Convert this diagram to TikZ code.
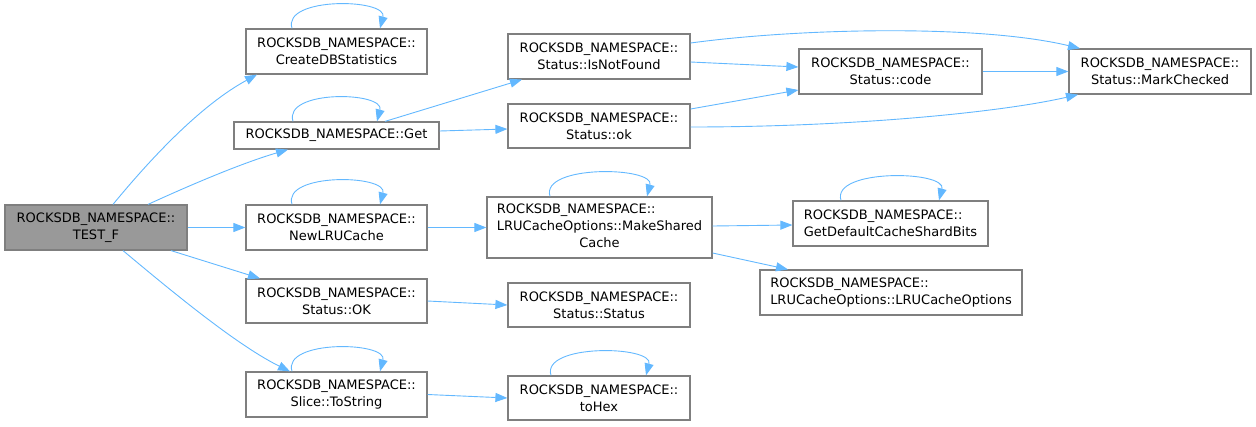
\documentclass[tikz,border=0pt]{standalone}
\usepackage{fontspec}
\setmainfont{DejaVu Sans}
\usetikzlibrary{arrows.meta}
\definecolor{edgec}{HTML}{63B8FF}
\definecolor{boxc}{HTML}{7F7F7F}
\definecolor{rootc}{HTML}{999999}
\tikzset{
  fn/.style={draw=boxc, line width=1.2pt, fill=white, inner sep=0pt, align=center,
    font=\fontsize{13}{17}\selectfont},
  root/.style={fn, fill=rootc},
  call/.style={draw=edgec, line width=0.9pt, -{Triangle[length=12pt,width=9pt]}},
}
\begin{document}
\begin{tikzpicture}[x=1pt,y=-1pt]
\useasboundingbox (0,0) rectangle (1256,426);
% nodes
\node[root, minimum width=182, minimum height=45] (testf) at (96,227.5) {ROCKSDB\_NAMESPACE::\\TEST\_F};
\node[fn, minimum width=181, minimum height=45] (cdb) at (336.5,51.5) {ROCKSDB\_NAMESPACE::\\CreateDBStatistics};
\node[fn, minimum width=205, minimum height=27] (get) at (336.5,135.5) {ROCKSDB\_NAMESPACE::Get};
\node[fn, minimum width=181, minimum height=45] (newlru) at (336.5,227.5) {ROCKSDB\_NAMESPACE::\\NewLRUCache};
\node[fn, minimum width=181, minimum height=44] (ok) at (336.5,301) {ROCKSDB\_NAMESPACE::\\Status::OK};
\node[fn, minimum width=181, minimum height=45] (tostr) at (336.5,394.5) {ROCKSDB\_NAMESPACE::\\Slice::ToString};
\node[fn, minimum width=182, minimum height=45] (isnf) at (599,56.5) {ROCKSDB\_NAMESPACE::\\Status::IsNotFound};
\node[fn, minimum width=182, minimum height=44] (sok) at (599,126) {ROCKSDB\_NAMESPACE::\\Status::ok};
\node[fn, minimum width=225, minimum height=61] (msc) at (599.5,227.5) {\begin{tabular}{@{}l@{}}ROCKSDB\_NAMESPACE::\\LRUCacheOptions::MakeShared\\\multicolumn{1}{@{}c@{}}{Cache}\end{tabular}};
\node[fn, minimum width=182, minimum height=44] (sst) at (599,305) {ROCKSDB\_NAMESPACE::\\Status::Status};
\node[fn, minimum width=182, minimum height=44] (tohex) at (599,398) {ROCKSDB\_NAMESPACE::\\toHex};
\node[fn, minimum width=183, minimum height=45] (code) at (890.5,71.5) {ROCKSDB\_NAMESPACE::\\Status::code};
\node[fn, minimum width=182, minimum height=45] (mark) at (1160,71.5) {ROCKSDB\_NAMESPACE::\\Status::MarkChecked};
\node[fn, minimum width=195, minimum height=45, align=left] (gdc) at (890.5,223.5) {ROCKSDB\_NAMESPACE::\\GetDefaultCacheShardBits};
\node[fn, minimum width=262, minimum height=45, align=left] (lruo) at (891,292.5) {ROCKSDB\_NAMESPACE::\\LRUCacheOptions::LRUCacheOptions};
% edges from TEST_F
\draw[call] ([xshift=17pt]testf.north) .. controls +(37,-45) and +(-57,31) .. ([xshift=-79.5pt]cdb.south);
\draw[call] ([xshift=52pt]testf.north) .. controls +(37,-17) and +(-48,14) .. ([xshift=-48.5pt]get.south);
\draw[call] (testf) -- (newlru);
\draw[call] ([xshift=75pt]testf.south) -- ([xshift=-76.5pt]ok.north);
\draw[call] ([xshift=27pt]testf.south) .. controls +(42,35) and +(-55,-27) .. ([xshift=-46.5pt]tostr.north);
% self loops
\draw[call] ([xshift=-44.5pt]cdb.north) .. controls +(-10,-32) and +(8,-30) .. ([xshift=43.5pt]cdb.north);
\draw[call] ([xshift=-43.5pt]get.north) .. controls +(-10,-32) and +(8,-30) .. ([xshift=40.5pt]get.north);
\draw[call] ([xshift=-44.5pt]newlru.north) .. controls +(-10,-32) and +(8,-30) .. ([xshift=43.5pt]newlru.north);
\draw[call] ([xshift=-44.5pt]tostr.north) .. controls +(-10,-32) and +(8,-30) .. ([xshift=43.5pt]tostr.north);
\draw[call] ([xshift=-49.5pt]msc.north) .. controls +(-10,-32) and +(8,-30) .. ([xshift=47.5pt]msc.north);
\draw[call] ([xshift=-48pt]tohex.north) .. controls +(-10,-32) and +(8,-30) .. ([xshift=47pt]tohex.north);
\draw[call] ([xshift=-49.5pt]gdc.north) .. controls +(-10,-32) and +(8,-30) .. ([xshift=48.5pt]gdc.north);
% Get
\draw[call] ([xshift=48.5pt]get.north) -- ([xshift=-77pt]isnf.south);
\draw[call] ([yshift=4.5pt]get.east) -- ([yshift=-3pt]sok.west);
% status
\draw[call] ([yshift=13.5pt]isnf.east) .. controls +(110,-15) and +(-100,-24) .. ([xshift=-80pt]mark.north);
\draw[call] ([yshift=-5.5pt]isnf.east) -- ([yshift=4.5pt]code.west);
\draw[call] ([yshift=17pt]sok.east) -- ([yshift=-18.5pt]code.west);
\draw[call] ([yshift=-1pt]sok.east) .. controls +(160,0) and +(-78,18) .. ([xshift=-82pt]mark.south);
\draw[call] (code) -- (mark);
% cache
\draw[call] (newlru) -- (msc);
\draw[call] ([yshift=1.5pt]msc.east) -- ([yshift=-1.5pt]gdc.west);
\draw[call] ([yshift=-25.5pt]msc.east) -- ([xshift=-103pt]lruo.north);
\draw[call] (ok.east) -- (sst.west);
\draw[call] (tostr.east) -- (tohex.west);
\end{tikzpicture}
\end{document}
